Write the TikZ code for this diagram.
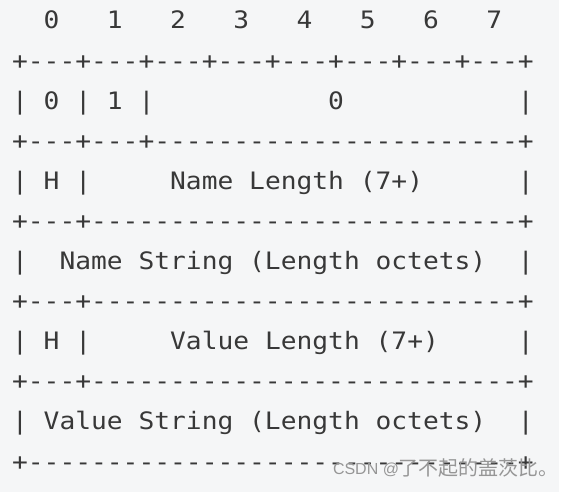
\documentclass[tikz,border=0pt]{standalone}
\usepackage{fontspec}
\newfontfamily\asciimono[FakeStretch=1.094]{DejaVu Sans Mono}
\newfontfamily\wmlatin{Liberation Sans}
\newfontfamily\wmcjk{Noto Sans CJK SC}
\definecolor{bgc}{HTML}{F5F6F7}
\definecolor{txt}{HTML}{383838}
\definecolor{wm}{HTML}{969696}
\begin{document}
\begin{tikzpicture}[x=1pt,y=1pt,
  row/.style={anchor=base west, inner sep=0pt, outer sep=0pt, text=txt,
    font=\asciimono\fontsize{24}{24}\selectfont},
  wmark/.style={anchor=base west, inner sep=0pt, outer sep=0pt, text=wm}]
\useasboundingbox (0,0) rectangle (566,492);
\fill[white] (0,0) rectangle (566,492);
\fill[bgc] (0,0) rectangle (559,492);
\node[row] (r0)  at (12.1,{492-29-40.1*0})  {~~0~~~1~~~2~~~3~~~4~~~5~~~6~~~7};
\node[row] (r1)  at (12.1,{492-29-40.1*1})  {+---+---+---+---+---+---+---+---+};
\node[row] (r2)  at (12.1,{492-29-40.1*2})  {|~0~|~1~|~~~~~~~~~~~0~~~~~~~~~~~|};
\node[row] (r3)  at (12.1,{492-29-40.1*3})  {+---+---+-----------------------+};
\node[row] (r4)  at (12.1,{492-29-40.1*4})  {|~H~|~~~~~Name~Length~(7+)~~~~~~|};
\node[row] (r5)  at (12.1,{492-29-40.1*5})  {+---+---------------------------+};
\node[row] (r6)  at (12.1,{492-29-40.1*6})  {|~~Name~String~(Length~octets)~~|};
\node[row] (r7)  at (12.1,{492-29-40.1*7})  {+---+---------------------------+};
\node[row] (r8)  at (12.1,{492-29-40.1*8})  {|~H~|~~~~~Value~Length~(7+)~~~~~|};
\node[row] (r9)  at (12.1,{492-29-40.1*9})  {+---+---------------------------+};
\node[row] (r10) at (12.1,{492-29-40.1*10}) {|~Value~String~(Length~octets)~~|};
\node[row] (r11) at (12.1,{492-29-40.1*11}) {+-------------------------------+};
\node[wmark, font=\wmlatin\fontsize{16}{16}\selectfont] (wmA) at (333,{492-475}) {CSDN @};
\node[wmark, font=\wmcjk\fontsize{20}{20}\selectfont] (wmB) at (398,{492-476}) {了不起的盖茨比。};
\end{tikzpicture}
\end{document}
